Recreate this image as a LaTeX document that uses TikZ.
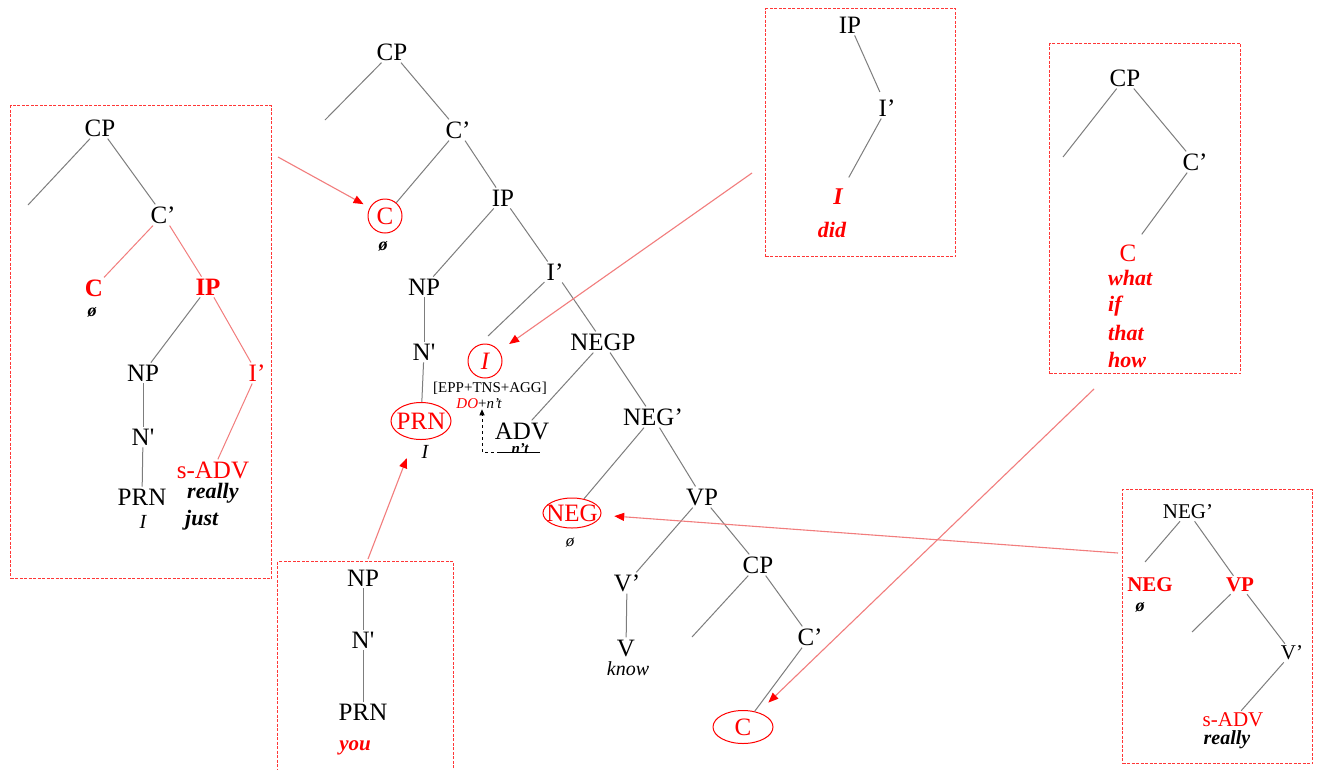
\documentclass[tikz,border=0pt]{standalone}
\usepackage{fontspec}
\newfontfamily\tf{Liberation Serif}
\usetikzlibrary{shapes.geometric,arrows.meta}
\definecolor{lred}{RGB}{242,125,125}
\definecolor{bred}{RGB}{255,55,55}
\definecolor{tred}{RGB}{255,0,0}
\definecolor{gline}{RGB}{125,125,125}
\begin{document}
\begin{tikzpicture}[x=1pt,y=-1pt,
 tx/.style={font=\tf\fontsize{25}{30}\selectfont, inner sep=2pt},
 txs/.style={font=\tf\fontsize{21}{25}\selectfont, inner sep=2pt},
 txb/.style={font=\tf\bfseries\fontsize{25}{30}\selectfont, inner sep=2pt},
 txsb/.style={font=\tf\bfseries\fontsize{21}{25}\selectfont, inner sep=2pt},
 sm/.style={font=\tf\fontsize{15}{17}\selectfont, inner sep=0pt},
 it/.style={font=\tf\itshape\fontsize{20}{24}\selectfont, inner sep=1pt},
 bi/.style={font=\tf\bfseries\itshape\fontsize{22}{26}\selectfont, inner sep=1pt},
 nul/.style={font=\tf\bfseries\itshape\fontsize{18}{20}\selectfont, inner sep=1pt},
 rd/.style={text=tred},
 br/.style={draw=gline, line width=1pt},
 rbr/.style={draw=lred, line width=1pt},
 circ/.style={draw=tred, text=tred, circle, inner sep=0pt, minimum size=34pt, line width=1pt},
 ell/.style={draw=tred, text=tred, ellipse, inner sep=0pt, line width=1pt},
 boxst/.style={draw=bred, line width=1.3pt, dash pattern=on 3pt off 1.5pt, rectangle, inner sep=0pt, anchor=north west},
 arr/.style={draw=lred, line width=1.1pt, -{Triangle[length=10pt,width=8pt,color=tred]}},
]
\useasboundingbox (0,0) rectangle (1322,769);
\fill[white] (0,0) rectangle (1322,769);

% ---------- boxes ----------
\node[boxst, minimum width=261pt, minimum height=473pt] (boxL) at (10,105) {};
\node[boxst, minimum width=176pt, minimum height=215pt] (boxB) at (277,561) {};
\node[boxst, minimum width=190pt, minimum height=248pt] (boxT) at (765,8) {};
\node[boxst, minimum width=191pt, minimum height=330pt] (boxR) at (1049,43) {};
\node[boxst, minimum width=190pt, minimum height=274pt] (boxRB) at (1122,489) {};

% ---------- main tree ----------
\node[tx] (mCP) at (392,52) {CP};
\coordinate (mCPl) at (325,120);
\node[tx] (mCb) at (458,130) {C’};
\node[tx, circ] (mC) at (385,216) {C};
\node[nul] (mCn) at (383,246) {ø};
\node[tx] (mIP) at (503,198) {IP};
\node[tx] (mNP) at (424,287) {NP};
\node[tx] (mNb) at (424,352) {N'};
\node[tx, ell, minimum width=60pt, minimum height=37pt] (mPRN) at (421,421) {\makebox[0pt]{PRN}};
\node[it] (mPRNi) at (425,452) {I};
\node[tx] (mIb) at (555,272) {I’};
\node[tx, circ] (mI) at (485,361) {\itshape I};
\coordinate (mItop) at (488,336);
\node[sm] (mEPP) at (490,388) {[EPP+TNS+AGG]};
\node[sm] (mDO) at (479,404) {{\color{tred}\itshape DO}+{\itshape n’t}};
\node[tx] (mADV) at (522,431) {ADV};
\node[sm, minimum width=40pt] (mnt) at (520,449) {\bfseries\itshape n’t};
\node[tx] (mNEGP) at (603,342) {NEGP};
\node[tx] (mNEGb) at (653,417) {NEG’};
\node[tx, ell, minimum width=58pt, minimum height=30pt] (mNEG) at (572,513) {\makebox[0pt]{NEG}};
\node[it, font=\tf\itshape\fontsize{17}{18}\selectfont] (mNEGn) at (570,543) {ø};
\node[tx] (mVP) at (702,497) {VP};
\node[tx] (mVb) at (627,583) {V’};
\node[tx] (mV) at (626,648) {V};
\node[it] (mknow) at (628,669) {know};
\node[tx] (mCP2) at (758,565) {CP};
\coordinate (mCP2l) at (692,637);
\node[tx] (mCb2) at (810,637) {C’};
\node[tx, ell, minimum width=60pt, minimum height=33pt] (mC2) at (743,727) {\makebox[0pt]{C}};

\draw[br] (mCP) -- (mCPl);
\draw[br] (mCP) -- (mCb);
\draw[br] (mCb) -- (mC);
\draw[br] (mCb) -- (mIP);
\draw[br] (mIP) -- (mNP);
\draw[br] (mIP) -- (mIb);
\draw[br] (mNP) -- (mNb);
\draw[br] (mNb) -- (mPRN);
\draw[br] (mIb) -- (mItop);
\draw[br] (mIb) -- (mNEGP);
\draw[br] (mNEGP) -- (mADV);
\draw[br] (mNEGP) -- (mNEGb);
\draw[br] (mNEGb) -- (mNEG);
\draw[br] (mNEGb) -- (mVP);
\draw[br] (mVP) -- (mVb);
\draw[br] (mVP) -- (mCP2);
\draw[br] (mVb) -- (mV);
\draw[br] (mCP2) -- (mCP2l);
\draw[br] (mCP2) -- (mCb2);
\draw[br] (mCb2) -- (mC2);

% strike-through and dashed movement arrow
\draw[line width=1pt] ([yshift=-3pt]mnt.west) -- ([yshift=-3pt]mnt.east);
\draw[dashed, line width=0.8pt, -{Triangle[length=6pt,width=5pt]}] ([yshift=-3pt]mnt.west) -| ([xshift=3pt]mDO.south);

% ---------- left box ----------
\node[tx] (lCP) at (100,128) {CP};
\coordinate (lCPl) at (28,205);
\node[tx] (lCb) at (163,215) {C’};
\node[txb, rd] (lC) at (94,288) {C};
\node[nul] (lCn) at (92,312) {ø};
\node[txb, rd] (lIP) at (208,287) {IP};
\node[tx] (lNP) at (143,373) {NP};
\node[tx, rd] (lIb) at (257,373) {I’};
\node[tx] (lNb) at (143,437) {N'};
\node[tx] (lPRN) at (142,497) {PRN};
\node[it] (lI) at (143,522) {I};
\node[tx, rd] (lsADV) at (213,470) {s-ADV};
\node[bi, anchor=west] (lreally) at (186,493) {really};
\node[bi, anchor=west] (ljust) at (184,520) {just};

\draw[br] (lCP) -- (lCPl);
\draw[br] (lCP) -- (lCb);
\draw[rbr] (lCb) -- (lC);
\draw[rbr] (lCb) -- (lIP);
\draw[br] (lIP) -- (lNP);
\draw[rbr] (lIP) -- (lIb);
\draw[br] (lNP) -- (lNb);
\draw[br] (lNb) -- (lPRN);
\draw[rbr] (lIb) -- (lsADV);

% ---------- bottom box ----------
\node[tx] (bNP) at (363,578) {NP};
\node[tx] (bNb) at (363,640) {N'};
\node[tx] (bPRN) at (363,712) {PRN};
\node[bi, rd, font=\tf\bfseries\itshape\fontsize{21}{24}\selectfont] (byou) at (355,748) {you};
\draw[br] (bNP) -- (bNb);
\draw[br] (bNb) -- (bPRN);

% ---------- IP box ----------
\node[tx] (tIP) at (850,25) {IP};
\node[tx] (tIb) at (887,108) {I’};
\node[bi, rd, font=\tf\bfseries\itshape\fontsize{24}{28}\selectfont] (tI) at (838,197) {I};
\node[bi, rd] (tdid) at (832,230) {did};
\draw[br, shorten >=6pt] (tIP) -- (tIb);
\draw[br, shorten >=12pt] (tIb) -- (tI);

% ---------- CP box ----------
\node[tx] (rCP) at (1125,78) {CP};
\coordinate (rCPl) at (1063,157);
\node[tx] (rCb) at (1195,162) {C’};
\node[tx, rd] (rC) at (1128,253) {C};
\node[bi, rd, anchor=west] (rwhat) at (1107,278) {what};
\node[bi, rd, anchor=west] (rif) at (1107,306) {if};
\node[bi, rd, anchor=west] (rthat) at (1107,333) {that};
\node[bi, rd, anchor=west] (rhow) at (1107,360) {how};
\draw[br] (rCP) -- (rCPl);
\draw[br] (rCP) -- (rCb);
\draw[br, shorten >=10pt] (rCb) -- (rC);

% ---------- NEG' box ----------
\node[txs] (rbNEGb) at (1188,512) {NEG’};
\coordinate (rbl) at (1145,562);
\node[txsb, rd] (rbNEG) at (1150,585) {NEG};
\node[nul] (rbn) at (1140,607) {ø};
\node[txsb, rd] (rbVP) at (1240,585) {VP};
\coordinate (rbVPl) at (1192,632);
\node[txs] (rbVb) at (1292,653) {V’};
\node[txs, rd] (rbsADV) at (1233,720) {s-ADV};
\node[bi, font=\tf\bfseries\itshape\fontsize{20}{24}\selectfont] (rbreally) at (1227,740) {really};
\draw[br] (rbNEGb) -- (rbl);
\draw[br] (rbNEGb) -- (rbVP);
\draw[br] (rbVP) -- (rbVPl);
\draw[br] (rbVP) -- (rbVb);
\draw[br] (rbVb) -- (rbsADV);

% ---------- arrows ----------
\coordinate (a1) at (278,157);
\coordinate (a2) at (752,173);
\coordinate (a3) at (368,559);
\coordinate (a4) at (1118,553);
\coordinate (a5) at (1094,389);
\draw[arr, shorten >=7pt] (a1) -- (mC);
\draw[arr, shorten >=12pt] (a2) -- (mI);
\draw[arr, shorten >=20pt] (a3) -- (mPRN);
\draw[arr, shorten >=13pt] (a4) -- (mNEG);
\draw[arr, shorten >=14pt] (a5) -- (mC2);
\end{tikzpicture}
\end{document}
